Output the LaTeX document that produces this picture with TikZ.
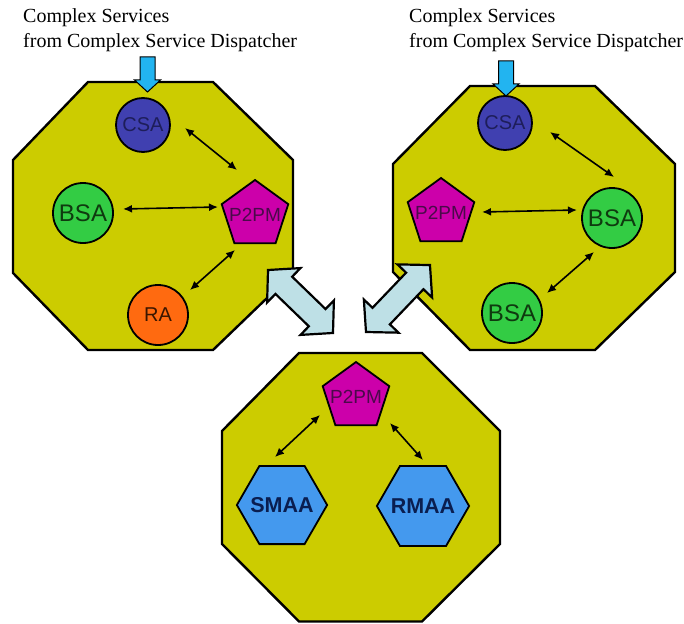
\documentclass[tikz,border=0pt]{standalone}
\usepackage{fontspec}
\setmainfont{Liberation Serif}
\newfontfamily\arialf{Liberation Sans}
\usetikzlibrary{shapes.geometric,arrows.meta}
\definecolor{octy}{HTML}{CCCC00}
\definecolor{csafill}{HTML}{4040B0}
\definecolor{csatext}{HTML}{1E1E5A}
\definecolor{bsafill}{HTML}{33CC44}
\definecolor{bsatext}{HTML}{0F3A0F}
\definecolor{pfill}{HTML}{CC00AA}
\definecolor{ptext}{HTML}{4A0A4A}
\definecolor{rafill}{HTML}{FF6A10}
\definecolor{ratext}{HTML}{3A1500}
\definecolor{hexfill}{HTML}{4499EE}
\definecolor{hextext}{HTML}{0A1E50}
\definecolor{bigblue}{HTML}{BEE0E6}
\definecolor{smallblue}{HTML}{22B4F0}
\begin{document}
\begin{tikzpicture}[x=1pt,y=-1pt,
  octa/.style={draw=black, line width=2.4pt, fill=octy, line join=miter},
  circ/.style={circle, draw=black, line width=1.8pt, inner sep=0pt},
  csastyle/.style={circ, fill=csafill, text=csatext, minimum size=54pt, font=\arialf\fontsize{20}{20}\selectfont},
  bsastyle/.style={circ, fill=bsafill, text=bsatext, minimum size=60pt, font=\arialf\fontsize{24}{24}\selectfont},
  rastyle/.style={circ, fill=rafill, text=ratext, minimum size=60pt, font=\arialf\fontsize{20}{20}\selectfont},
  pent/.style={regular polygon, regular polygon sides=5, minimum size=70pt, inner sep=-10pt, draw=black, line width=1.8pt, fill=pfill, text=ptext, font=\arialf\fontsize{19}{19}\selectfont},
  hexa/.style={regular polygon, regular polygon sides=6, minimum size=87pt, inner sep=-4pt, draw=black, line width=1.8pt, fill=hexfill, text=hextext, font=\arialf\bfseries\fontsize{21.5}{21.5}\selectfont},
  thinarr/.style={{Latex[length=9pt,width=8pt]}-{Latex[length=9pt,width=8pt]}, line width=1.6pt},
  bigarr/.style={draw=black, line width=2.2pt, fill=bigblue, line join=miter},
  smallarr/.style={draw=black, line width=1pt, fill=smallblue},
  toplabel/.style={anchor=base west, inner sep=0pt, font=\fontsize{20}{24}\selectfont}
]
\useasboundingbox (0,0) rectangle (684,623);

% labels
\node[toplabel] (t1L) at (23,23) {Complex Services};
\node[toplabel] (t2L) at (23,48) {from Complex Service Dispatcher};
\node[toplabel] (t1R) at (409,23) {Complex Services};
\node[toplabel] (t2R) at (409,48) {from Complex Service Dispatcher};

% octagons
\draw[octa] (88,82) -- (213,82) -- (293,160) -- (293,273) -- (213,350) -- (88,350) -- (13,273) -- (13,160) -- cycle;
\draw[octa] (470,86) -- (595,86) -- (675,164) -- (675,272) -- (595,350) -- (470,350) -- (393,272) -- (393,164) -- cycle;
\draw[octa] (299,353) -- (422,353) -- (500,431) -- (500,544) -- (422,621.5) -- (299,621.5) -- (222,544) -- (222,431) -- cycle;

% small blue input arrows
\draw[smallarr] (140,57) -- (155,57) -- (155,80) -- (160.5,80) -- (147.5,92) -- (134.5,80) -- (140,80) -- cycle;
\draw[smallarr] (498.5,61) -- (513.5,61) -- (513.5,84) -- (519,84) -- (506,96) -- (493,84) -- (498.5,84) -- cycle;

% big double arrows
\begin{scope}[shift={(268,270)}, rotate=-44.1]
\draw[bigarr] (0,0) -- (22,24) -- (22,12) -- (68.5,12) -- (68.5,24) -- (90.5,0) -- (68.5,-24) -- (68.5,-12) -- (22,-12) -- (22,-24) -- cycle;
\end{scope}
\begin{scope}[shift={(366,332)}, rotate=46.3]
\draw[bigarr] (0,0) -- (22,24) -- (22,12) -- (70.6,12) -- (70.6,24) -- (92.6,0) -- (70.6,-24) -- (70.6,-12) -- (22,-12) -- (22,-24) -- cycle;
\end{scope}

% left octagon nodes
\node[csastyle] (csaL) at (143,125) {CSA};
\node[bsastyle] (bsaL) at (83,213) {BSA};
\node[pent] (p2pmL) at (255,215) {P2PM};
\node[rastyle] (raL) at (158,315) {RA};

% right octagon nodes
\node[csastyle] (csaR) at (505,123) {CSA};
\node[pent] (p2pmR) at (441,213) {P2PM};
\node[bsastyle] (bsaR1) at (612,218) {BSA};
\node[bsastyle] (bsaR2) at (512,313) {BSA};

% bottom octagon nodes
\node[pent] (p2pmB) at (356,397) {P2PM};
\node[hexa] (smaa) at (282,505) {SMAA};
\node[hexa] (rmaa) at (423,506) {RMAA};

% connectors
\draw[thinarr] ([shift={(42,3)}]csaL.center) -- ([shift={(-18,-45)}]p2pmL.center);
\draw[thinarr] ([shift={(40,-4)}]bsaL.center) -- ([shift={(-37,-8)}]p2pmL.center);
\draw[thinarr] ([shift={(32,-25)}]raL.center) -- ([shift={(-20,35)}]p2pmL.center);

\draw[thinarr] ([shift={(45,9)}]csaR.center) -- ([shift={(2,-41)}]bsaR1.center);
\draw[thinarr] ([shift={(41,-1)}]p2pmR.center) -- ([shift={(-35,-8)}]bsaR1.center);
\draw[thinarr] ([shift={(35,-20)}]bsaR2.center) -- ([shift={(-18,34)}]bsaR1.center);

\draw[thinarr] ([shift={(-36,18)}]p2pmB.center) -- ([shift={(-7,-48)}]smaa.center);
\draw[thinarr] ([shift={(34,26)}]p2pmB.center) -- ([shift={(0,-46)}]rmaa.center);
\end{tikzpicture}
\end{document}
